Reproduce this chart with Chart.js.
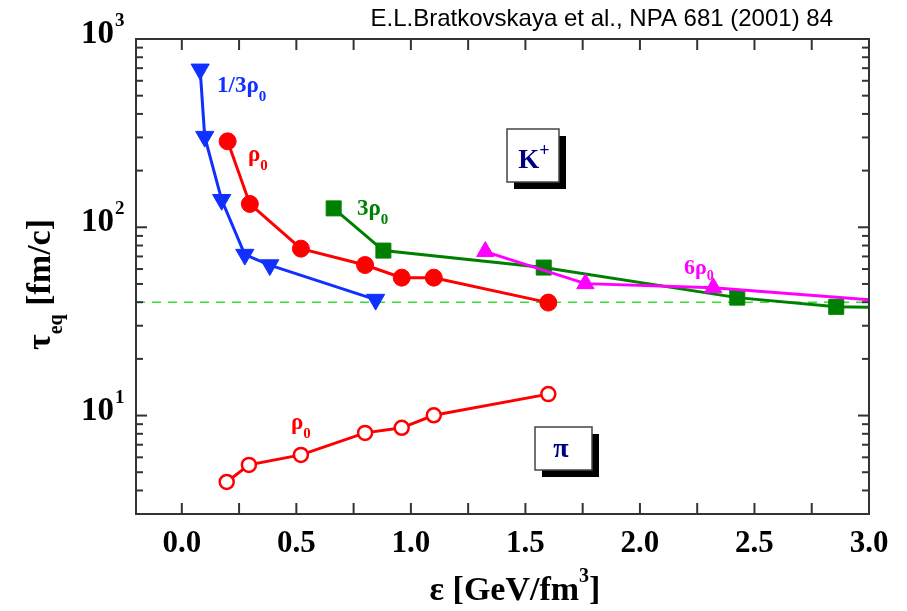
<!DOCTYPE html>
<html>
<head>
<meta charset="utf-8">
<script src="https://cdn.jsdelivr.net/npm/chart.js@4.4.1/dist/chart.umd.min.js"></script>
<style>
  html, body { margin: 0; padding: 0; background: #fff; }
</style>
</head>
<body>
<canvas id="chart" width="907" height="611"></canvas>
<script>
// K+ : tau_eq [fm/c] vs energy density [GeV/fm^3]
const blueX = [0.08, 0.10, 0.174, 0.275, 0.384, 0.846];       // 1/3 rho0
const blueTau = [690, 303, 140, 71.6, 63, 41.3];
const redX = [0.20, 0.297, 0.52, 0.80, 0.96, 1.10, 1.60];     // rho0
const redTau = [286, 133, 77, 63, 54, 54, 39.8];
const greenX = [0.663, 0.88, 1.58, 2.425, 2.857, 3.1];        // 3 rho0 (last one off the plot)
const greenTau = [126, 75.2, 61.1, 42.3, 37.8, 37.5];
const magentaX = [1.325, 1.762, 2.32, 3.1];                   // 6 rho0 (last one off the plot)
const magentaTau = [74.3, 50.2, 47.8, 40.3];
// pi : rho0
const pionX = [0.196, 0.293, 0.52, 0.80, 0.96, 1.10, 1.60];
const pionTau = [4.44, 5.47, 6.18, 8.09, 8.61, 10.03, 13.0];
const refTau = 40;

const xTicks = [0, 0.25, 0.5, 0.75, 1, 1.25, 1.5, 1.75, 2, 2.25, 2.5, 2.75, 3];
const xLabels = ['0.0', '0.5', '1.0', '1.5', '2.0', '2.5', '3.0'];
const yDecades = [10, 100, 1000];

const SERIF = '"Liberation Serif", "Times New Roman", serif';

const pts = (xs, ys) => xs.map((x, i) => ({ x: x, y: ys[i] }));

// text made of runs: [text, size, dy]
const drawRuns = (ctx, runs, x, y, align) => {
  let w = 0;
  runs.forEach(r => {
    ctx.font = 'bold ' + r[1] + 'px ' + SERIF;
    w += ctx.measureText(r[0]).width;
  });
  let cx = x;
  if (align === 'center') cx = x - w / 2;
  if (align === 'right') cx = x - w;
  ctx.textAlign = 'left';
  ctx.textBaseline = 'alphabetic';
  runs.forEach(r => {
    ctx.font = 'bold ' + r[1] + 'px ' + SERIF;
    ctx.fillText(r[0], cx, y + (r[2] || 0));
    cx += ctx.measureText(r[0]).width;
  });
};

const frame = {
  id: 'frame',
  afterDraw(chart) {
    const ctx = chart.ctx;
    const a = chart.chartArea;
    const xs = chart.scales.x;
    const ys = chart.scales.y;
    ctx.save();
    ctx.strokeStyle = '#333';
    ctx.lineWidth = 2;
    ctx.strokeRect(a.left, a.top, a.right - a.left, a.bottom - a.top);
    const line = (x1, y1, x2, y2) => {
      ctx.beginPath(); ctx.moveTo(x1, y1); ctx.lineTo(x2, y2); ctx.stroke();
    };
    // x ticks, bottom and top
    xTicks.forEach(v => {
      const px = xs.getPixelForValue(v);
      line(px, a.bottom, px, a.bottom - 11);
      line(px, a.top, px, a.top + 11);
    });
    // y ticks, left and right
    [1, 10, 100].forEach(d => {
      for (let m = 1; m <= 9; m++) {
        const v = d * m;
        if (v < ys.min || v > ys.max) continue;
        const py = ys.getPixelForValue(v);
        const len = m === 1 ? 11 : 7;
        line(a.left, py, a.left + len, py);
        line(a.right, py, a.right - len, py);
      }
    });
    ctx.fillStyle = '#000';
    // x tick labels
    xLabels.forEach(t => {
      const px = xs.getPixelForValue(parseFloat(t));
      drawRuns(ctx, [[t, 31]], px, 552, 'center');
    });
    // y tick labels
    yDecades.forEach(v => {
      const py = ys.getPixelForValue(v);
      const e = String(Math.round(Math.log10(v)));
      drawRuns(ctx, [['10', 33]], 114, py + 4, 'right');
      drawRuns(ctx, [[e, 19]], 115, py - 13, 'left');
    });
    // axis titles
    drawRuns(ctx, [['ε [GeV/fm', 34], ['3', 20, -18], [']', 34]], 515, 600, 'center');
    ctx.save();
    ctx.translate(50, 350);
    ctx.rotate(-Math.PI / 2);
    drawRuns(ctx, [['τ', 34], ['eq', 20, 12], [' [fm/c]', 34]], 0, 0, 'left');
    ctx.restore();

    // reference
    ctx.font = '24px "Liberation Sans", Arial, sans-serif';
    ctx.textAlign = 'right';
    ctx.fillText('E.L.Bratkovskaya et al., NPA 681 (2001) 84', 833, 26);

    // series labels
    ctx.fillStyle = '#1030ff';
    drawRuns(ctx, [['1/3ρ', 23], ['0', 15, 9]], 217, 92, 'left');
    ctx.fillStyle = '#ff0000';
    drawRuns(ctx, [['ρ', 23], ['0', 15, 9]], 248, 161, 'left');
    drawRuns(ctx, [['ρ', 23], ['0', 15, 9]], 291, 429, 'left');
    ctx.fillStyle = '#008000';
    drawRuns(ctx, [['3ρ', 23], ['0', 15, 9]], 357, 215, 'left');
    ctx.fillStyle = '#ff00ff';
    drawRuns(ctx, [['6ρ', 22], ['0', 14, 6]], 684, 274, 'left');

    // particle boxes
    const box = (x, y, w, h, runs) => {
      ctx.fillStyle = '#000';
      ctx.fillRect(x + 7, y + 7, w, h);
      ctx.fillStyle = '#fff';
      ctx.fillRect(x, y, w, h);
      ctx.strokeStyle = '#444';
      ctx.lineWidth = 1.5;
      ctx.strokeRect(x, y, w, h);
      ctx.fillStyle = '#000080';
      runs();
    };
    box(507, 129, 52, 53, () => {
      drawRuns(ctx, [['K', 27], ['+', 18, -12]], 534, 168, 'center');
    });
    box(535, 427, 57, 43, () => {
      drawRuns(ctx, [['π', 28]], 561, 457, 'center');
    });
    ctx.restore();
  }
};

const lineSet = (data, color, extra) => Object.assign({
  data: data,
  borderColor: color,
  backgroundColor: color,
  pointBackgroundColor: color,
  pointBorderColor: color,
  borderWidth: 3,
  pointBorderWidth: 1,
  tension: 0,
  fill: false
}, extra);

new Chart(document.getElementById('chart'), {
  type: 'line',
  data: {
    datasets: [
      lineSet(pts(blueX, blueTau), '#1030ff', { pointStyle: 'triangle', rotation: 180, pointRadius: 10.5, order: 1 }),
      lineSet(pts(redX, redTau), '#ff0000', { pointStyle: 'circle', pointRadius: 8.5, order: 2 }),
      lineSet(pts(pionX, pionTau), '#ff0000', { pointStyle: 'circle', pointRadius: 7, pointBackgroundColor: '#fff', pointBorderWidth: 2.5, order: 3 }),
      lineSet(pts(magentaX, magentaTau), '#ff00ff', { pointStyle: 'triangle', pointRadius: 10, order: 4 }),
      lineSet(pts(greenX, greenTau), '#008000', { pointStyle: 'rect', pointRadius: 10.6, order: 5 }),
      lineSet([{ x: -0.2, y: refTau }, { x: 3.0, y: refTau }], '#33e033', { borderWidth: 1.5, borderDash: [9, 7], pointRadius: 0, order: 9 })
    ]
  },
  options: {
    responsive: false,
    devicePixelRatio: 1,
    animation: false,
    events: [],
    layout: { padding: { left: 136, right: 38, top: 39, bottom: 97 } },
    plugins: { legend: { display: false }, tooltip: { enabled: false } },
    scales: {
      x: { type: 'linear', min: -0.2, max: 3.0, display: false },
      y: { type: 'logarithmic', min: 3, max: 1000, display: false }
    }
  },
  plugins: [frame]
});
</script>
</body>
</html>
